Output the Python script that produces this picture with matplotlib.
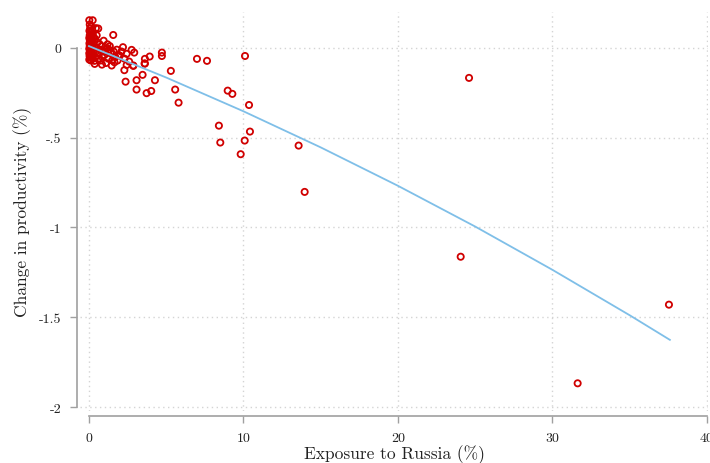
import matplotlib
matplotlib.use("Agg")
import matplotlib.pyplot as plt

plt.rcParams['font.family'] = ['cmr10', 'DejaVu Serif']
plt.rcParams['axes.unicode_minus'] = False
plt.rcParams['axes.formatter.use_mathtext'] = True

# Scatter data: exposure to Russia (%) and change in productivity (%)
exposure = [
    0.02, 0.24, 0.05, 0.15, 0.08, 0.20, 0.03, 0.12, 0.25, 0.05, 0.18, 0.30, 0.02, 0.10,
    0.22, 0.06, 0.15, 0.28, 0.03, 0.12, 0.20, 0.05, 0.25, 0.10, 0.02, 0.18, 0.30, 0.07,
    0.14, 0.02, 0.22, 0.10, 0.04, 0.17, 0.08, 0.25, 0.02, 0.12, 0.35,
    0.45, 0.60, 0.40, 0.55, 0.70, 0.50, 0.80, 0.45, 0.65, 0.90, 0.40, 0.60, 0.85, 0.37,
    0.84, 0.75, 0.95, 0.50, 0.70, 1.00,
    1.10, 1.47, 1.20, 1.30, 1.40, 1.57, 1.60, 1.70, 1.80, 1.90, 1.25, 1.50, 1.15, 1.35,
    1.05, 1.65, 1.85, 2.00,
    2.20, 2.44, 2.60, 2.76, 2.87, 2.93, 2.29, 2.37, 2.44, 2.87, 3.08, 3.08, 3.47, 3.60,
    3.62, 3.62, 3.73, 3.93, 4.03, 4.27, 4.72, 4.72, 5.30, 5.58, 5.80, 2.30, 2.10,
    6.99, 7.64, 10.10, 8.98, 9.28, 10.36, 8.41, 10.42, 8.50, 10.08, 9.82, 13.57, 13.96,
    24.60, 24.06, 37.54, 31.63,
]
productivity = [
    0.154, 0.154, 0.130, 0.120, 0.110, 0.100, 0.095, 0.085, 0.080, 0.070, 0.065, 0.060, 0.055, 0.050,
    0.045, 0.040, 0.035, 0.030, 0.025, 0.020, 0.015, 0.010, 0.005, 0.000, -0.005, -0.010, -0.015, -0.020,
    -0.025, -0.030, -0.035, -0.040, -0.045, -0.050, -0.055, -0.060, -0.065, -0.070, -0.072,
    0.110, 0.108, 0.050, 0.030, 0.020, 0.000, 0.010, -0.020, -0.030, -0.020, -0.050, -0.060, -0.050, -0.089,
    -0.093, -0.070, 0.040, 0.070, -0.010, -0.040,
    -0.084, -0.098, 0.020, -0.010, -0.030, 0.072, -0.020, -0.050, -0.010, -0.040, -0.060, -0.070, 0.000, 0.010,
    -0.020, -0.080, -0.070, -0.043,
    0.004, -0.033, -0.076, -0.011, -0.100, -0.026, -0.124, -0.188, -0.095, -0.098, -0.180, -0.232, -0.150, -0.087,
    -0.061, -0.087, -0.252, -0.048, -0.240, -0.180, -0.026, -0.045, -0.128, -0.232, -0.305, -0.060, -0.020,
    -0.061, -0.072, -0.045, -0.238, -0.256, -0.318, -0.433, -0.466, -0.527, -0.516, -0.592, -0.544, -0.802,
    -0.167, -1.163, -1.430, -1.868,
]

# Fitted line
fit_x = [0, 5, 10, 15, 20, 25, 30, 35, 37.6]
fit_y = [0.010, -0.165, -0.353, -0.554, -0.768, -0.995, -1.236, -1.489, -1.626]

xticks = [0, 10, 20, 30, 40]
xtick_labels = ['0', '10', '20', '30', '40']
yticks = [0, -0.5, -1, -1.5, -2]
ytick_labels = ['0', '-.5', '-1', '-1.5', '-2']

fig = plt.figure(figsize=(7.1, 4.64), dpi=100)
W, H = 710, 464
left_px, right_px, top_px, bottom_px = 79.7, 708.5, 13, 411.6
ax = fig.add_axes([left_px / W, 1 - bottom_px / H, (right_px - left_px) / W, (bottom_px - top_px) / H])

ax.set_xlim(-0.6, 40.1)
ax.set_ylim(-2.02, 0.2)

grid_kw = dict(color='#d4d4d4', linestyle=(0, (1, 2.5)), linewidth=1.0, zorder=0)
for xv in xticks:
    ax.axvline(xv, **grid_kw)
for yv in yticks:
    ax.axhline(yv, **grid_kw)

ax.scatter(exposure, productivity, s=20, facecolors='none', edgecolors='#d00000',
           linewidths=1.3, zorder=3)
ax.plot(fit_x, fit_y, color='#7fbfe8', linewidth=1.3, zorder=4)

ax.set_xticks(xticks)
ax.set_xticklabels(xtick_labels)
ax.set_yticks(yticks)
ax.set_yticklabels(ytick_labels)

for side in ['top', 'right']:
    ax.spines[side].set_visible(False)
ax.spines['left'].set_position(('outward', 2))
ax.spines['bottom'].set_position(('outward', 4))
ax.spines['left'].set_bounds(-2, 0)
ax.spines['bottom'].set_bounds(0, 40)
for side in ['left', 'bottom']:
    ax.spines[side].set_color('#a0a0a0')
    ax.spines[side].set_linewidth(1.2)
ax.tick_params(axis='both', direction='out', length=5, width=1.0, color='#a0a0a0',
               labelsize=10, labelcolor='#222222', pad=6)

ax.set_xlabel('Exposure to Russia (%)', fontsize=12.5, color='#222222', labelpad=0.5)
ax.set_ylabel('Change in productivity (%)', fontsize=12.5, color='#222222', labelpad=5)

fig.savefig('out.png', dpi=100)
